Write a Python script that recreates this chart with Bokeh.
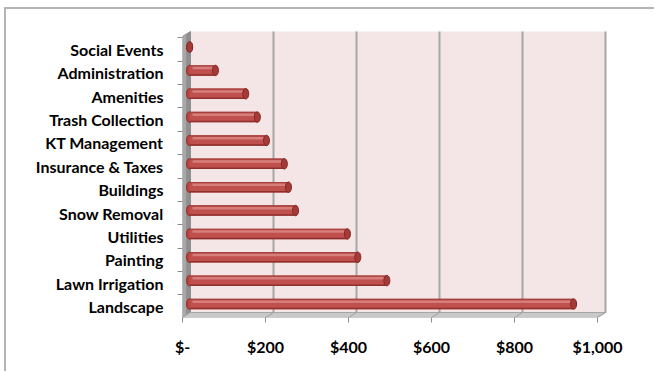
from bokeh.plotting import figure
from bokeh.models import FixedTicker, ColumnDataSource
from bokeh.embed import file_html
from bokeh.resources import INLINE

categories = ["Landscape", "Lawn Irrigation", "Painting", "Utilities", "Snow Removal",
              "Buildings", "Insurance & Taxes", "KT Management", "Trash Collection",
              "Amenities", "Administration", "Social Events"]
values = [940, 490, 420, 395, 270, 253, 243, 200, 178, 150, 77, 15]
x_ticks = [0, 200, 400, 600, 800, 1000]
x_tick_labels = ["$-", "$200", "$400", "$600", "$800", "$1,000"]

# layout (pixels per unit)
SX = 0.415
SY = 23.36
FW, FH = 448, 292
X_END = FW / SX
Y_BOT = -11 / SY
Y_TOP_RANGE = Y_BOT + FH / SY
DX = 8 / SX          # depth offset in x units
DY = 5 / SY          # depth offset in y units
WALL_TOP = 275 / SY
XMAX = x_ticks[-1]

p = figure(frame_width=FW, frame_height=FH, x_range=(0, X_END), y_range=(Y_BOT, Y_TOP_RANGE),
           output_backend="svg", toolbar_location=None,
           min_border_left=176, min_border_right=24, min_border_top=16, min_border_bottom=54)
p.outline_line_color = None
p.background_fill_color = "white"
p.border_fill_color = "white"
p.xgrid.grid_line_color = None
p.ygrid.grid_line_color = None
p.styles = {"border-left": "2px solid #B4B4B4", "border-top": "2px solid #B4B4B4",
            "margin-left": "4px", "margin-top": "7px"}

# back wall
p.quad(left=DX, right=XMAX + DX, bottom=Y_BOT + DY, top=WALL_TOP,
       fill_color="#F4E6E6", line_color=None)
# left wall
p.patch([0, DX, DX, 0], [Y_BOT, Y_BOT + DY, WALL_TOP, WALL_TOP - DY],
        fill_color="#A8A8A8", line_color="#8C8C8C", line_width=1)
p.patch([DX * 0.45, DX, DX, DX * 0.45], [Y_BOT + DY * 0.45, Y_BOT + DY, WALL_TOP, WALL_TOP - DY * 0.55],
        fill_color="#8F8F8F", line_color=None)
# floor
p.patch([0, XMAX, XMAX + DX, DX], [Y_BOT, Y_BOT, Y_BOT + DY, Y_BOT + DY],
        fill_color="#C9C9C9", line_color="#A6A6A6", line_width=1)
# gridlines on wall and floor
for t in x_ticks[1:]:
    p.line([t + DX, t + DX], [Y_BOT + DY, WALL_TOP], line_color="#A6A6A6", line_width=2)
    p.line([t, t + DX], [Y_BOT, Y_BOT + DY], line_color="#A0A0A0", line_width=1)

# bars (cylinders) at mid depth
H = 10.5 / SY
CAP = 6 / SX
x0 = DX / 2
ys = [i + DY / 2 for i in range(len(categories))]
ends = [v + x0 - CAP / 2 for v in values]
src = ColumnDataSource(dict(
    y=ys,
    end=ends,
    start=[x0 + CAP / 2] * len(values),
    lo_y=[y - H / 2 + 0.75 / SY for y in ys],
    up_y=[y + H / 2 - 0.6 / SY for y in ys],
    hl_y=[y + 0.1 for y in ys],
    hl_end=[e - CAP / 2 for e in ends],
    hl_start=[x0 + CAP] * len(values),
))
p.ellipse(x="start", y="y", width=CAP, height=H, source=src,
          fill_color="#B8423F", line_color="#8E2F2C", line_width=1)
p.hbar(y="y", left="start", right="end", height=H, source=src,
       fill_color="#C0504D", line_color=None)
p.hbar(y="lo_y", left="start", right="end", height=1.5 / SY, source=src,
       fill_color="#8E2F2C", line_color=None)
p.hbar(y="up_y", left="start", right="end", height=1.2 / SY, source=src,
       fill_color="#A4403D", line_color=None)
p.hbar(y="hl_y", left="hl_start", right="hl_end", height=2.5 / SY, source=src,
       fill_color="#DE918E", fill_alpha=0.7, line_color=None)
p.ellipse(x="end", y="y", width=CAP, height=H, source=src,
          fill_color="#A53B38", line_color="#832925", line_width=1)

# axes
FONT = "Lato"
xa = p.xaxis[0]
xa.ticker = FixedTicker(ticks=x_ticks)
xa.major_label_overrides = {t: l for t, l in zip(x_ticks, x_tick_labels)}
xa.axis_line_color = None
xa.major_tick_out = 5
xa.major_tick_in = 0
xa.major_tick_line_color = "#8C8C8C"
xa.minor_tick_line_color = None
xa.major_label_standoff = 14
xa.major_label_text_font = FONT
xa.major_label_text_font_style = "bold"
xa.major_label_text_font_size = "16px"
xa.major_label_text_color = "#000000"

ya = p.yaxis[0]
ya.ticker = FixedTicker(ticks=list(range(len(categories))),
                        minor_ticks=[i - 0.5 for i in range(len(categories) + 1)])
ya.major_label_overrides = {i: c for i, c in enumerate(categories)}
ya.axis_line_color = None
ya.major_tick_line_color = None
ya.major_tick_out = 0
ya.major_tick_in = 0
ya.minor_tick_out = 5
ya.minor_tick_in = 0
ya.minor_tick_line_color = "#8C8C8C"
ya.major_label_standoff = 14
ya.major_label_text_font = FONT
ya.major_label_text_font_style = "bold"
ya.major_label_text_font_size = "16px"
ya.major_label_text_color = "#000000"

open("out.html", "w").write(file_html(p, INLINE))
